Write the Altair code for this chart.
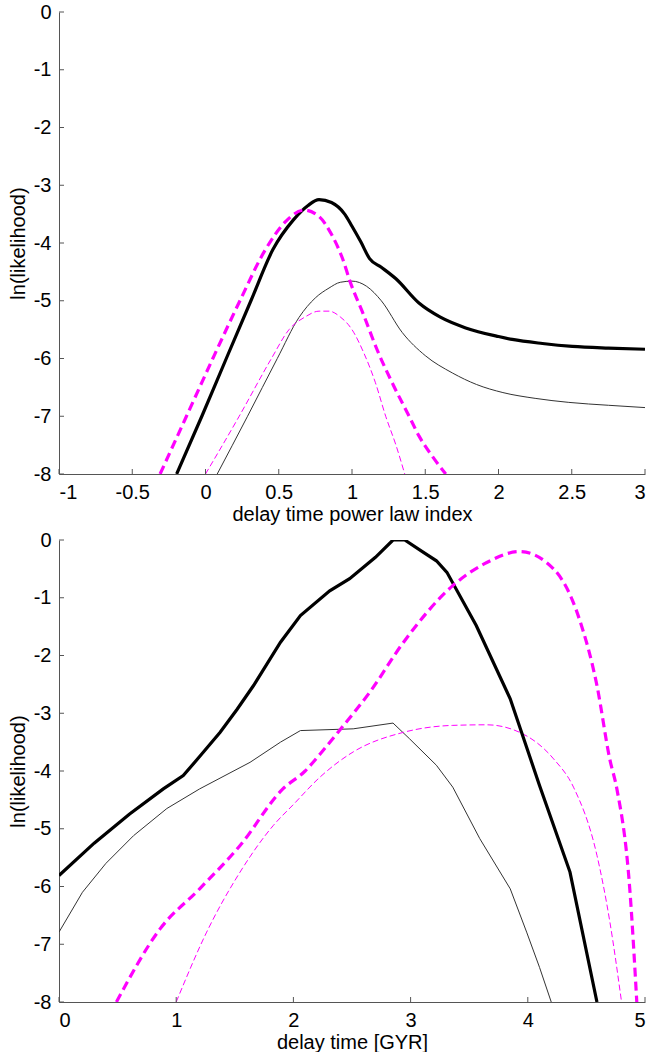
import altair as alt
import pandas as pd

# ---------------- data: top panel (delay time power law index) ----------------
top_thick_black_x = [-0.197, -0.025, 0.142, 0.31, 0.461, 0.6, 0.7, 0.775, 0.86, 0.95, 1.0, 1.06, 1.12, 1.2, 1.3, 1.457, 1.6, 1.776, 2.0, 2.094, 2.3, 2.504, 2.75, 3.0]
top_thick_black_y = [-8.0, -7.0, -6.0, -5.0, -4.11, -3.6, -3.35, -3.25, -3.3, -3.5, -3.71, -3.98, -4.27, -4.42, -4.62, -5.04, -5.28, -5.47, -5.62, -5.67, -5.74, -5.79, -5.82, -5.84]

top_thick_mag_x = [-0.31, -0.13, 0.05, 0.235, 0.41, 0.55, 0.672, 0.775, 0.86, 0.934, 0.99, 1.08, 1.17, 1.28, 1.39, 1.457, 1.55, 1.64]
top_thick_mag_y = [-8.0, -7.0, -6.0, -5.0, -4.11, -3.62, -3.43, -3.54, -3.85, -4.26, -4.69, -5.25, -5.84, -6.45, -7.0, -7.34, -7.7, -8.0]

top_thin_black_x = [0.08, 0.287, 0.49, 0.638, 0.75, 0.843, 0.92, 1.0, 1.1, 1.2, 1.343, 1.5, 1.685, 1.85, 2.03, 2.25, 2.48, 2.75, 3.0]
top_thin_black_y = [-8.0, -7.0, -6.0, -5.29, -4.95, -4.78, -4.68, -4.66, -4.75, -5.0, -5.55, -5.95, -6.25, -6.45, -6.59, -6.69, -6.76, -6.81, -6.85]

top_thin_mag_x = [0.0, 0.23, 0.45, 0.57, 0.68, 0.775, 0.843, 0.92, 1.0, 1.08, 1.16, 1.23, 1.3, 1.36]
top_thin_mag_y = [-8.0, -7.0, -6.0, -5.5, -5.28, -5.18, -5.18, -5.28, -5.5, -5.9, -6.42, -7.0, -7.5, -8.0]

# ---------------- data: bottom panel (delay time [GYR]) ----------------
bot_thick_black_x = [0.0, 0.3, 0.6, 0.89, 1.06, 1.2, 1.375, 1.52, 1.66, 1.89, 2.06, 2.31, 2.48, 2.7, 2.85, 2.95, 3.1, 3.22, 3.31, 3.56, 3.85, 4.1, 4.36, 4.59]
bot_thick_black_y = [-5.81, -5.25, -4.75, -4.31, -4.08, -3.75, -3.33, -2.93, -2.52, -1.77, -1.31, -0.88, -0.67, -0.3, 0.0, 0.0, -0.2, -0.36, -0.56, -1.48, -2.75, -4.25, -5.75, -8.0]

bot_thin_black_x = [0.0, 0.2, 0.4, 0.636, 0.92, 1.2, 1.63, 1.89, 2.06, 2.51, 2.85, 2.99, 3.22, 3.36, 3.59, 3.85, 3.99, 4.1, 4.2]
bot_thin_black_y = [-6.79, -6.1, -5.6, -5.12, -4.65, -4.31, -3.85, -3.5, -3.3, -3.27, -3.17, -3.44, -3.9, -4.28, -5.17, -6.04, -6.79, -7.4, -8.0]

bot_thick_mag_x = [0.49, 0.864, 1.2, 1.545, 1.91, 2.1, 2.23, 2.4, 2.65, 2.94, 3.36, 3.65, 3.93, 4.22, 4.44, 4.59, 4.70, 4.76, 4.87, 4.93]
bot_thick_mag_y = [-8.0, -6.73, -6.04, -5.29, -4.31, -4.0, -3.7, -3.28, -2.64, -1.77, -0.79, -0.39, -0.2, -0.5, -1.37, -2.52, -3.8, -4.31, -6.04, -8.0]

bot_thin_mag_x = [1.0, 1.26, 1.545, 1.83, 2.0, 2.23, 2.51, 2.94, 3.36, 3.65, 3.93, 4.22, 4.39, 4.59, 4.70, 4.80]
bot_thin_mag_y = [-8.0, -6.79, -5.75, -4.94, -4.58, -4.1, -3.67, -3.33, -3.21, -3.2, -3.33, -3.79, -4.28, -5.46, -6.61, -8.0]

# ---------------- axes ----------------
top_x_ticks = [-1, -0.5, 0, 0.5, 1, 1.5, 2, 2.5, 3]
bot_x_ticks = [0, 1, 2, 3, 4, 5]
y_ticks = [-8, -7, -6, -5, -4, -3, -2, -1, 0]

top_x_title = "delay time power law index"
bot_x_title = "delay time [GYR]"
y_title = "ln(likelihood)"

W, H = 586, 462
FONT = "Liberation Sans"
AXIS_COLOR = "#555555"

STYLES = {
    "thick_black": dict(color="#000000", strokeWidth=3.2),
    "thin_black": dict(color="#333333", strokeWidth=1.0),
    "thick_mag": dict(color="#ff00ff", strokeWidth=3.2, strokeDash=[9, 5]),
    "thin_mag": dict(color="#ff00ff", strokeWidth=1.0, strokeDash=[6, 3]),
}


def panel(series, xdom, xticks, xtitle, interp):
    xs = alt.Scale(domain=xdom, nice=False, zero=False)
    ys = alt.Scale(domain=[-8, 0], nice=False, zero=False)
    layers = []
    for name, xv, yv in series:
        df = pd.DataFrame({"x": xv, "y": yv})
        ln = alt.Chart(df).mark_line(clip=True, interpolate=interp[name], **STYLES[name]).encode(
            x=alt.X("x:Q", scale=xs, axis=alt.Axis(
                values=xticks, title=xtitle, labelExpr="'' + datum.value",
                ticks=False, grid=False, domainColor=AXIS_COLOR, domainWidth=1,
                labelFont=FONT, labelFontSize=20, labelColor="black", labelPadding=8,
                titleFont=FONT, titleFontSize=20, titleFontWeight="normal", titleColor="black",
                titlePadding=2)),
            y=alt.Y("y:Q", scale=ys, axis=alt.Axis(
                values=y_ticks, title=y_title, labelExpr="'' + datum.value",
                ticks=False, grid=False, domainColor=AXIS_COLOR, domainWidth=1,
                labelFont=FONT, labelFontSize=20, labelColor="black", labelPadding=8,
                titleFont=FONT, titleFontSize=20, titleFontWeight="normal", titleColor="black",
                titlePadding=5)),
            order=alt.Order("idx:Q"),
        ).transform_window(idx="row_number()")
        layers.append(ln)
    xt = alt.Chart(pd.DataFrame({"v": xticks})).mark_rule(color=AXIS_COLOR, strokeWidth=1).encode(
        x=alt.X("v:Q", scale=xs), y=alt.value(H), y2=alt.value(H - 5))
    yt = alt.Chart(pd.DataFrame({"v": y_ticks})).mark_rule(color=AXIS_COLOR, strokeWidth=1).encode(
        y=alt.Y("v:Q", scale=ys), x=alt.value(0), x2=alt.value(5))
    return alt.layer(*layers, xt, yt).properties(width=W, height=H)


top = panel(
    [("thin_black", top_thin_black_x, top_thin_black_y),
     ("thin_mag", top_thin_mag_x, top_thin_mag_y),
     ("thick_black", top_thick_black_x, top_thick_black_y),
     ("thick_mag", top_thick_mag_x, top_thick_mag_y)],
    [-1, 3], top_x_ticks, top_x_title,
    {"thin_black": "monotone", "thin_mag": "monotone", "thick_black": "monotone", "thick_mag": "monotone"},
)
bottom = panel(
    [("thin_black", bot_thin_black_x, bot_thin_black_y),
     ("thin_mag", bot_thin_mag_x, bot_thin_mag_y),
     ("thick_black", bot_thick_black_x, bot_thick_black_y),
     ("thick_mag", bot_thick_mag_x, bot_thick_mag_y)],
    [0, 5], bot_x_ticks, bot_x_title,
    {"thin_black": "linear", "thin_mag": "monotone", "thick_black": "linear", "thick_mag": "monotone"},
)

chart = alt.vconcat(top, bottom, spacing=6).properties(
    padding={"left": 8, "top": 2, "right": 0, "bottom": 0},
    background="white",
).configure_view(stroke=None)

chart.save("out.html", embed_options={"renderer": "svg", "actions": False})
